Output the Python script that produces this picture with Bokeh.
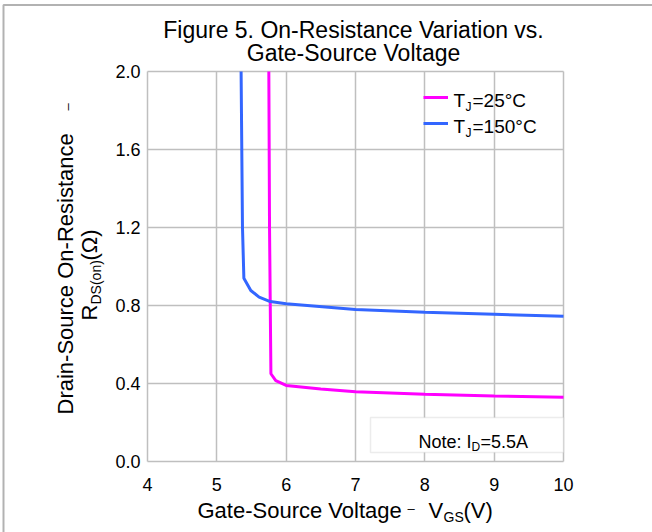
import numpy as np
from bokeh.plotting import figure
from bokeh.models import Label, Legend, LegendItem, FixedTicker, BoxAnnotation, Range1d
from bokeh.embed import file_html
from bokeh.resources import INLINE

# ---- data ----
vgs_25 = [5.75, 5.76, 5.78, 5.85, 6.0, 6.5, 7.0, 8.0, 9.0, 10.0]
r_25 = [2.0, 1.2, 0.45, 0.415, 0.39, 0.372, 0.358, 0.345, 0.336, 0.33]
vgs_150 = [5.35, 5.37, 5.39, 5.49, 5.61, 5.77, 6.0, 7.0, 8.0, 9.0, 10.0]
r_150 = [2.0, 1.2, 0.94, 0.877, 0.843, 0.82, 0.809, 0.78, 0.765, 0.755, 0.745]
x_ticks = [4, 5, 6, 7, 8, 9, 10]
y_ticks = [0.0, 0.4, 0.8, 1.2, 1.6, 2.0]
x_bounds = (4, 10)
y_bounds = (0.0, 2.0)
series_names = ["25°C", "150°C"]
series_colors = ["#FF00FF", "#3366FF"]

FONT = "Liberation Sans"
GRID = "#BFBFBF"
W, H = 652, 532
FL, FR, FT, FB = 147, 563, 71, 461   # chart-area edges in page pixels

def dx(px):
    return x_bounds[0] + (px - FL) * (x_bounds[1] - x_bounds[0]) / (FR - FL)

def dy(py):
    return y_bounds[0] + (FB - py) * (y_bounds[1] - y_bounds[0]) / (FB - FT)

# the frame covers the whole canvas, the chart area is placed by the ranges
p = figure(width=W, height=H, output_backend="svg", toolbar_location=None,
           x_range=Range1d(dx(0), dx(W)), y_range=Range1d(dy(H), dy(0)),
           min_border=0, min_border_left=0, min_border_right=0,
           min_border_top=0, min_border_bottom=0)
p.background_fill_color = "white"
p.border_fill_color = "white"
p.outline_line_color = None
p.grid.visible = False

xa, ya = p.xaxis[0], p.yaxis[0]
xa.fixed_location = y_bounds[0]
ya.fixed_location = x_bounds[0]
xa.bounds = x_bounds
ya.bounds = y_bounds
xa.ticker = FixedTicker(ticks=x_ticks)
ya.ticker = FixedTicker(ticks=y_ticks)
ya.major_label_overrides = {t: f"{t:.1f}" for t in y_ticks}
for ax, span in ((xa, FB - FT), (ya, FR - FL)):
    ax.level = "underlay"
    ax.axis_line_color = None
    ax.minor_tick_line_color = None
    ax.major_tick_out = 0
    ax.major_tick_in = span          # ticks run across the chart area as grid lines
    ax.major_tick_line_color = GRID
    ax.major_tick_line_width = 1.5
    ax.major_label_text_font = FONT
    ax.major_label_text_font_size = "18px"
    ax.major_label_text_color = "black"
xa.major_label_standoff = 16
ya.major_label_standoff = 7

r1 = p.line(vgs_25, r_25, line_color=series_colors[0], line_width=3)
r2 = p.line(vgs_150, r_150, line_color=series_colors[1], line_width=3)

legend = Legend(items=[LegendItem(label=" ", renderers=[r1]),
                       LegendItem(label=" ", renderers=[r2])],
                location=(423, H - 133), padding=0, margin=0, spacing=6,
                glyph_width=25, glyph_height=20, label_height=20, label_width=1,
                label_standoff=0, border_line_color=None, background_fill_alpha=0)
p.add_layout(legend)

K = 0.31  # baseline correction (fraction of font size)

def lab(text, px, py, size, align="left"):
    p.add_layout(Label(x=dx(px), y=dy(py - K * size), text=text, text_font=FONT,
                       text_font_size=f"{size}px", text_align=align,
                       text_baseline="alphabetic", text_color="black"))

def vlab(text, px, py, size):
    p.add_layout(Label(x=dx(px - K * size), y=dy(py), text=text, text_font=FONT,
                       text_font_size=f"{size}px", text_align="left",
                       text_baseline="alphabetic", angle=np.pi / 2, text_color="black"))

# page border (top and left edges of the original figure box)
p.add_layout(BoxAnnotation(left=dx(3), right=dx(W + 50), top=dy(4.5), bottom=dy(H + 50),
                           fill_alpha=0, line_color="black", line_width=2))

# title
lab("Figure 5. On-Resistance Variation vs.", 353, 37, 23, align="center")
lab("Gate-Source Voltage", 353, 60, 23, align="center")

# legend texts
for i, name in enumerate(series_names):
    base = 106 + 26 * i
    lab("T", 453, base, 19)
    lab("J", 465, base + 4, 12)
    lab("=" + name, 472, base, 19)

# note box
p.add_layout(BoxAnnotation(left=dx(370), right=dx(563), top=dy(417), bottom=dy(452),
                           fill_color="white", fill_alpha=1.0,
                           line_color=GRID, line_width=1.5))
lab("Note: I", 418, 447, 18)
lab("D", 471, 450, 12)
lab("=5.5A", 480, 447, 18)

# x axis title
lab("Gate-Source Voltage", 197, 517, 22)
lab("–", 407, 512, 13)
lab("V", 428, 517, 22)
lab("GS", 443, 521, 14)
lab("(V)", 463, 517, 22)

# y axis title (rotated)
vlab("Drain-Source On-Resistance", 72, 414, 22)
vlab("–", 71, 110, 13)
vlab("R", 96, 320, 22)
vlab("DS(on)", 100, 304, 14)
vlab("(Ω)", 96, 260, 22)

open("out.html", "w").write(file_html(p, INLINE))
